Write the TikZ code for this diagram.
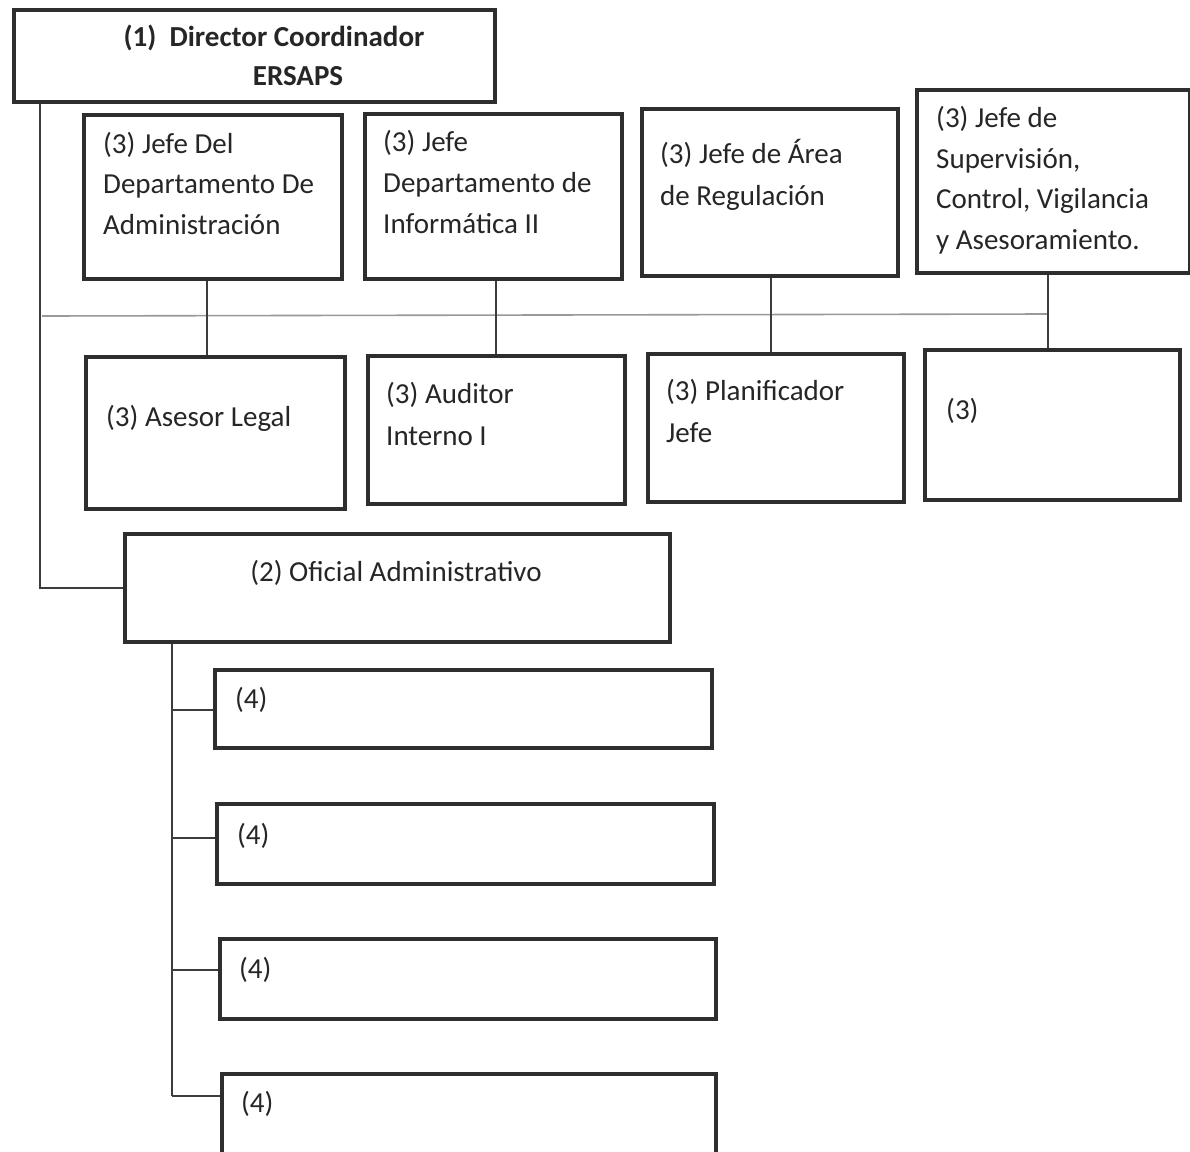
\documentclass[tikz,border=0pt]{standalone}
\usepackage{fontspec}
\setmainfont{Carlito}
\definecolor{ink}{HTML}{262626}
\definecolor{edge}{HTML}{2E2E2E}
\definecolor{wire}{HTML}{3C3C3C}
\definecolor{bus}{HTML}{999999}
\tikzset{
  box/.style={draw=edge, line width=3.8pt, rectangle, inner sep=0pt, anchor=north west, fill=white},
  one/.style={text=ink, inner sep=0pt, anchor=base west, font=\fontsize{29}{40}\selectfont},
  head/.style={text=ink, inner sep=0pt, anchor=base, font=\fontsize{29}{40}\selectfont\bfseries},
  conn/.style={draw=wire, line width=1.5pt},
  busline/.style={draw=bus, line width=1.6pt}
}
\begin{document}
\begin{tikzpicture}[x=1pt, y=-1pt]
  \clip (0,0) rectangle (1190,1151);
  \fill[white] (0,0) rectangle (1190,1151);

  % top level
  \node[box, minimum width=481pt, minimum height=92pt] (top) at (12,8) {};
  \node[head] (topA) at (274,46) {(1)\ \ Director Coordinador};
  \node[head] (topB) at (298,85) {ERSAPS};

  % first row of heads of department
  \node[box, minimum width=258pt, minimum height=164pt] (b1) at (82,113) {};
  \node[box, minimum width=257pt, minimum height=165pt] (b2) at (363,112) {};
  \node[box, minimum width=256pt, minimum height=167pt] (b3) at (640,107) {};
  \node[box, minimum width=273pt, minimum height=183pt] (b4) at (915,88) {};

  % second row
  \node[box, minimum width=259pt, minimum height=152pt] (c1) at (84,355) {};
  \node[box, minimum width=257pt, minimum height=148pt] (c2) at (366,354) {};
  \node[box, minimum width=256pt, minimum height=148pt] (c3) at (646,352) {};
  \node[box, minimum width=255pt, minimum height=150pt] (c4) at (923,348) {};

  % administrative branch
  \node[box, minimum width=545pt, minimum height=108pt] (of) at (123,532) {};
  \node[box, minimum width=497pt, minimum height=78pt] (d1) at (213,668) {};
  \node[box, minimum width=497pt, minimum height=80pt] (d2) at (215,802) {};
  \node[box, minimum width=496pt, minimum height=80pt] (d3) at (218,937) {};
  \node[box, minimum width=494pt, minimum height=100pt] (d4) at (220,1072) {};

  % connector anchors
  \coordinate (spine) at (40,0);
  \coordinate (busL) at (42,316);
  \coordinate (busR) at (1048,314);
  \coordinate (sub) at (172,0);
  \coordinate (t1) at (172,710);
  \coordinate (t2) at (172,838);
  \coordinate (t3) at (172,970);
  \coordinate (t4) at (172,1096);

  % connectors
  \draw[conn] (top.south -| spine) |- (of.west);
  \draw[busline] (busL) -- (busR);
  \draw[conn] (b1.south -| 207,0) -- (c1.north -| 207,0);
  \draw[conn] (b2.south -| 496,0) -- (c2.north -| 496,0);
  \draw[conn] (b3.south -| 771,0) -- (c3.north -| 771,0);
  \draw[conn] (b4.south -| busR) -- (c4.north -| busR);
  \draw[conn] (of.south -| sub) -- (t4);
  \draw[conn] (t1) -- (d1.west |- t1);
  \draw[conn] (t2) -- (d2.west |- t2);
  \draw[conn] (t3) -- (d3.west |- t3);
  \draw[conn] (t4) -- (d4.west |- t4);

  % texts, one node per printed line
  \node[one] (b1a) at (103,153) {(3) Jefe Del};
  \node[one] (b1b) at (103,193) {Departamento De};
  \node[one] (b1c) at (103,234) {Administración};

  \node[one] (b2a) at (383,151) {(3) Jefe};
  \node[one] (b2b) at (383,192) {Departamento de};
  \node[one] (b2c) at (383,233) {Informática II};

  \node[one] (b3a) at (660,163) {(3) Jefe de Área};
  \node[one] (b3b) at (660,205) {de Regulación};

  \node[one] (b4a) at (936,127) {(3) Jefe de};
  \node[one] (b4b) at (936,168) {Supervisión,};
  \node[one] (b4c) at (936,208) {Control, Vigilancia};
  \node[one] (b4d) at (936,249) {y Asesoramiento.};

  \node[one] (c1a) at (106,426) {(3) Asesor Legal};
  \node[one] (c2a) at (386,403) {(3) Auditor};
  \node[one] (c2b) at (386,445) {Interno I};
  \node[one] (c3a) at (666,400) {(3) Planificador};
  \node[one] (c3b) at (666,442) {Jefe};
  \node[one] (c4a) at (946,419) {(3)};

  \node[one, anchor=base] (ofa) at (396,581) {(2) Oficial Administrativo};
  \node[one] (d1a) at (235,708) {(4)};
  \node[one] (d2a) at (237,844) {(4)};
  \node[one] (d3a) at (239,978) {(4)};
  \node[one] (d4a) at (241,1112) {(4)};
\end{tikzpicture}
\end{document}
